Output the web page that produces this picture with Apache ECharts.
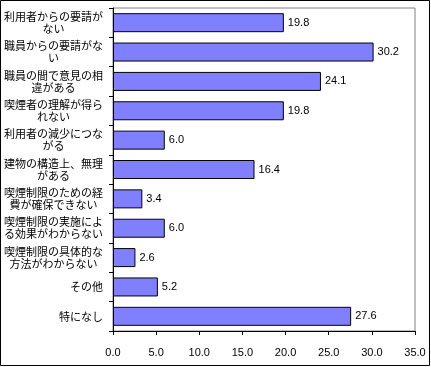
<!DOCTYPE html>
<html>
<head>
<meta charset="utf-8">
<script src="https://cdn.jsdelivr.net/npm/echarts@6/dist/echarts.min.js"></script>
<style>
html,body{margin:0;padding:0;background:#fff;}
#c{width:431px;height:367px;}
</style>
</head>
<body>
<div id="c"></div>
<script>
const categories = [
  '利用者からの要請がない',
  '職員からの要請がない',
  '職員の間で意見の相違がある',
  '喫煙者の理解が得られない',
  '利用者の減少につながる',
  '建物の構造上、無理がある',
  '喫煙制限のための経費が確保できない',
  '喫煙制限の実施による効果がわからない',
  '喫煙制限の具体的な方法がわからない',
  'その他',
  '特になし'
];
const values = [19.8, 30.2, 24.1, 19.8, 6.0, 16.4, 3.4, 6.0, 2.6, 5.2, 27.6];
const xMin = 0, xMax = 35, xStep = 5;

const jp = '"Noto Sans CJK JP", sans-serif';
const num = '"Liberation Sans Narrow", "Liberation Sans", Arial, sans-serif';

const chart = echarts.init(document.getElementById('c'), null, {renderer: 'canvas'});
chart.setOption({
  animation: false,
  backgroundColor: '#fff',
  grid: {left: 113, right: 16, top: 8, bottom: 36, show: true, borderColor: '#808080', borderWidth: 1, backgroundColor: 'transparent'},
  xAxis: {
    type: 'value', min: xMin, max: xMax, interval: xStep,
    axisLine: {show: true, lineStyle: {color: '#000', width: 1}},
    axisTick: {show: true, length: 4, lineStyle: {color: '#000'}},
    splitLine: {show: false},
    axisLabel: {margin: 16, color: '#000', fontFamily: num, fontSize: 11, formatter: v => v.toFixed(1)}
  },
  yAxis: {
    type: 'category', data: categories, inverse: true,
    axisLine: {show: true, lineStyle: {color: '#000', width: 1}},
    axisTick: {show: true, length: 4, lineStyle: {color: '#000'}},
    axisLabel: {
      margin: 10, align: 'right', color: '#000', fontFamily: jp, fontSize: 11,
      formatter: function (s) {
        if (s.length > 9) return '{c|' + s.slice(0, 9) + '\n' + s.slice(9) + '}';
        return s;
      },
      rich: {c: {align: 'center', fontFamily: jp, fontSize: 11, lineHeight: 12, color: '#000'}}
    }
  },
  series: [{
    type: 'bar', data: values, barWidth: 19,
    itemStyle: {color: '#8080FF', borderColor: '#000', borderWidth: 1},
    label: {show: true, position: 'right', distance: 4, color: '#000', fontFamily: num, fontSize: 11, formatter: p => p.value.toFixed(1)}
  }],
  graphic: [{type: 'rect', shape: {x: 0.5, y: 0.5, width: 429, height: 365}, style: {fill: null, stroke: '#000', lineWidth: 1}, z: 100}]
});
</script>
</body>
</html>
